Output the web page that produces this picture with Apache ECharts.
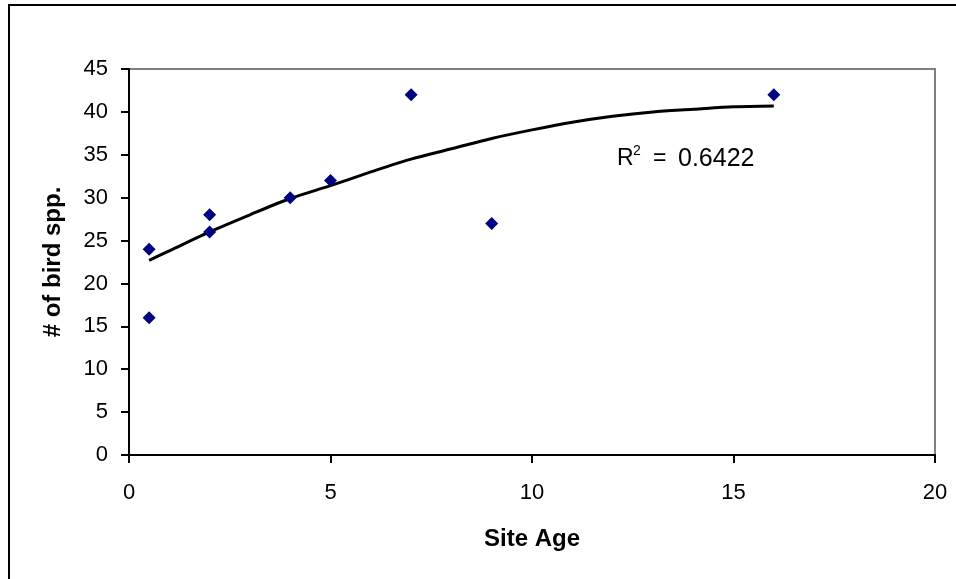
<!DOCTYPE html>
<html lang="en">
<head>
    <meta charset="UTF-8">
    <title>Site Age vs bird species</title>
    <script src="https://cdn.jsdelivr.net/npm/echarts@6/dist/echarts.min.js"></script>
    <style>
        html, body { margin: 0; padding: 0; background: #fff; }
    </style>
</head>
<body>
    <div id="main" style="width: 956px;height:579px;"></div>
    <script type="text/javascript">

        // observed sites: age (years) and number of bird species
        var siteAge = [0.5, 0.5, 2, 2, 4, 5, 7, 9, 16];
        var birdSpp = [24, 16, 28, 26, 30, 32, 42, 27, 42];

        // trendline
        var trendX = [0.5, 1, 2, 3, 4, 5, 6, 7, 8, 9, 10, 11, 12, 13, 14, 15, 16];
        var trendY = [22.7, 23.8, 26.0, 28.0, 29.9, 31.4, 33.0, 34.5, 35.7, 36.9, 37.9, 38.8, 39.5, 40.0, 40.3, 40.6, 40.7];

        var xTicks = [0, 5, 10, 15, 20];
        var yTicks = [0, 5, 10, 15, 20, 25, 30, 35, 40, 45];

        var myChart = echarts.init(document.getElementById('main'));

        var points = siteAge.map(function (x, i) { return [x, birdSpp[i]]; });
        var trend = trendX.map(function (x, i) { return [x, trendY[i]]; });

        var font = 'Arial, "Liberation Sans", sans-serif';

        var option = {
            backgroundColor: '#fff',
            animation: false,
            grid: {
                left: 129, top: 69, right: 21, bottom: 124,
                show: true,
                borderColor: '#808080',
                borderWidth: 2
            },
            xAxis: {
                type: 'value',
                min: xTicks[0], max: xTicks[xTicks.length - 1], interval: 5,
                name: 'Site Age',
                nameLocation: 'middle',
                nameGap: 72,
                nameTextStyle: { fontFamily: font, fontWeight: 'bold', fontSize: 24, color: '#000' },
                axisLine: { lineStyle: { color: '#000', width: 2 } },
                axisTick: { show: true, length: 8, lineStyle: { color: '#000', width: 2 } },
                axisLabel: { margin: 27, fontFamily: font, fontSize: 22, color: '#000' },
                splitLine: { show: false }
            },
            yAxis: {
                type: 'value',
                min: yTicks[0], max: yTicks[yTicks.length - 1], interval: 5,
                name: '# of bird spp.',
                nameLocation: 'middle',
                nameGap: 64,
                nameTextStyle: { fontFamily: font, fontWeight: 'bold', fontSize: 24, color: '#000' },
                axisLine: { show: true, lineStyle: { color: '#000', width: 2 } },
                axisTick: { show: true, length: 8, lineStyle: { color: '#000', width: 2 } },
                axisLabel: { margin: 21, fontFamily: font, fontSize: 22, color: '#000' },
                splitLine: { show: false }
            },
            graphic: [
                {
                    type: 'rect',
                    shape: { x: 9, y: 5, width: 1200, height: 1000 },
                    style: { fill: 'none', stroke: '#000', lineWidth: 2 },
                    silent: true
                },
                {
                    type: 'text', x: 617, y: 159,
                    style: { text: 'R', font: '23px ' + font, fill: '#000', verticalAlign: 'middle' }
                },
                {
                    type: 'text', x: 633, y: 151,
                    style: { text: '2', font: '14px ' + font, fill: '#000', verticalAlign: 'middle' }
                },
                {
                    type: 'text', x: 653, y: 159,
                    style: { text: '=', font: '23px ' + font, fill: '#000', verticalAlign: 'middle' }
                },
                {
                    type: 'text', x: 678, y: 159,
                    style: { text: '0.6422', font: '25px ' + font, fill: '#000', verticalAlign: 'middle' }
                }
            ],
            series: [
                {
                    name: 'trend',
                    type: 'line',
                    data: trend,
                    smooth: 0.3,
                    showSymbol: false,
                    lineStyle: { color: '#000', width: 3 },
                    z: 2
                },
                {
                    name: 'sites',
                    type: 'scatter',
                    data: points,
                    symbol: 'diamond',
                    symbolSize: 13,
                    itemStyle: { color: '#000080', opacity: 1 },
                    z: 3
                }
            ]
        };
        myChart.setOption(option);
    </script>
</body>
</html>
